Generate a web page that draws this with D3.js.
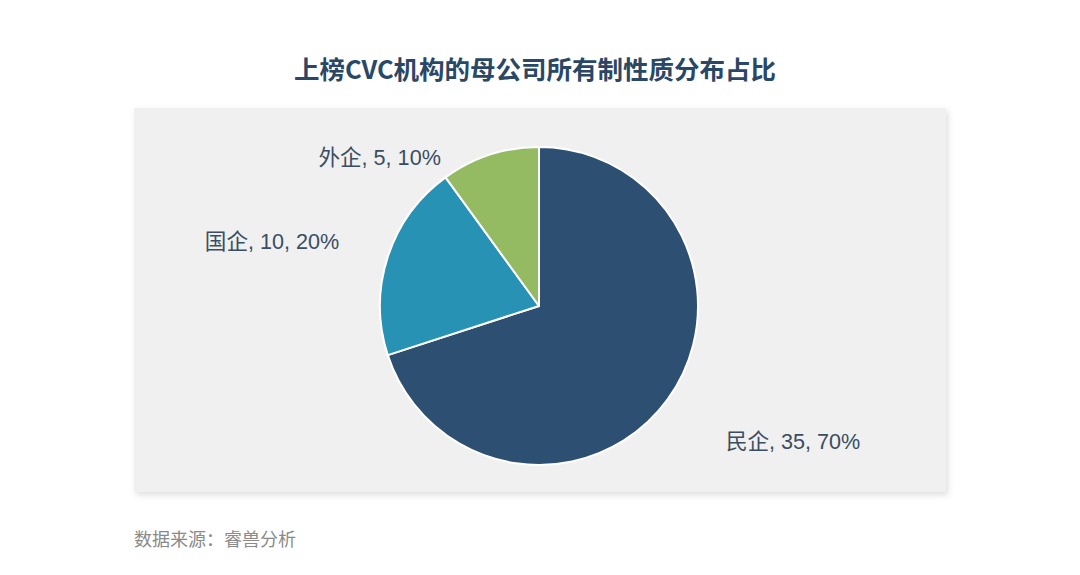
<!DOCTYPE html>
<html lang="zh">

<head>
    <meta charset="UTF-8">
    <title>上榜CVC机构的母公司所有制性质分布占比</title>
    <script src="https://d3js.org/d3.v7.min.js"></script>
    <style>
        body { margin: 0; background: #fff; }
        text { font-family: "Liberation Sans", Arial, "Noto Sans CJK SC", sans-serif; }
    </style>
</head>

<body>

    <svg class="svgs" height="575" width="1080"></svg>

    <script>
        // 数据
        const categories = ['民企', '国企', '外企']
        const values = [35, 10, 5]
        const percents = ['70%', '20%', '10%']
        const colors = ['#2d4f71', '#2792b3', '#95bb62']

        const svg = d3.select('.svgs')
        const width = +svg.attr('width')

        const data = categories.map((name, i) => ({ name, value: values[i], pct: percents[i], color: colors[i] }))

        // 阴影
        const defs = svg.append('defs')
        const filter = defs.append('filter').attr('id', 'shadow')
            .attr('x', '-5%').attr('y', '-5%').attr('width', '110%').attr('height', '115%')
        filter.append('feDropShadow')
            .attr('dx', 2).attr('dy', 3).attr('stdDeviation', 3)
            .attr('flood-color', '#000').attr('flood-opacity', 0.13)

        // 背景面板
        svg.append('rect')
            .attr('x', 134).attr('y', 108)
            .attr('width', 812).attr('height', 384)
            .attr('fill', '#f0f0f0')
            .attr('filter', 'url(#shadow)')

        // 标题
        svg.append('text')
            .attr('x', width / 2 - 5)
            .attr('y', 79)
            .attr('text-anchor', 'middle')
            .attr('font-size', '25.5px')
            .attr('font-weight', 'bold')
            .attr('fill', '#2a4766')
            .style('font-family', '"Noto Sans CJK SC", sans-serif')
            .text('上榜CVC机构的母公司所有制性质分布占比')

        const cx = 539, cy = 306, radius = 159
        const g = svg.append('g').attr('transform', `translate(${cx},${cy})`)

        const pie = d3.pie().sort(null).value(d => d.value)
        const arc = d3.arc().innerRadius(0).outerRadius(radius)
        const arcs = pie(data)

        g.selectAll('path')
            .data(arcs)
            .enter()
            .append('path')
            .attr('d', arc)
            .attr('fill', d => d.data.color)
            .attr('stroke', '#fff')
            .attr('stroke-width', 2)
            .attr('stroke-linejoin', 'round')

        // 标签布局（半径、角度偏移）
        const labelLayout = {
            '民企': { r: 231, shift: 0 },
            '国企': { r: 210, shift: 0 },
            '外企': { r: 178, shift: -0.27 }
        }

        g.selectAll('.label')
            .data(arcs)
            .enter()
            .append('text')
            .attr('class', 'label')
            .each(function (d) {
                const lay = labelLayout[d.data.name]
                const a = (d.startAngle + d.endAngle) / 2 + lay.shift
                const x = Math.sin(a) * lay.r
                const y = -Math.cos(a) * lay.r
                d3.select(this)
                    .attr('x', x)
                    .attr('y', y)
                    .attr('dy', '0.35em')
                    .attr('text-anchor', Math.sin(a) < 0 ? 'end' : 'start')
            })
            .attr('font-size', '21.6px')
            .attr('fill', '#394d63')
            .text(d => `${d.data.name}, ${d.data.value}, ${d.data.pct}`)

        // 数据来源
        svg.append('text')
            .attr('x', 134)
            .attr('y', 546)
            .attr('font-size', '18px')
            .attr('fill', '#8a8a8a')
            .text('数据来源：睿兽分析')
    </script>
</body>

</html>
